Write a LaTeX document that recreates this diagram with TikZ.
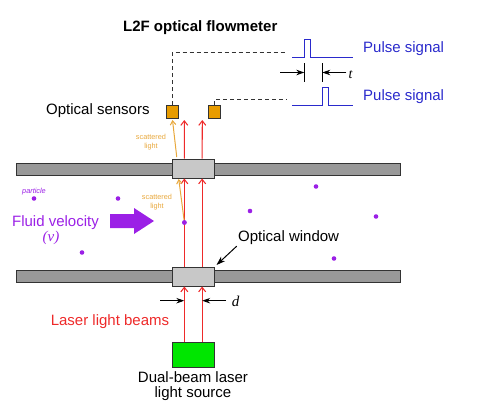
\documentclass[tikz,border=0pt]{standalone}
\usepackage{fontspec}
\setmainfont{Liberation Sans}
\newfontfamily\mathserif{Liberation Serif}
\usetikzlibrary{arrows.meta,calc}
\definecolor{pipegray}{HTML}{999999}
\definecolor{windowgray}{HTML}{C8C8C8}
\definecolor{edgegray}{HTML}{333333}
\definecolor{sensororange}{HTML}{E89C00}
\definecolor{scatterorange}{HTML}{E8A83C}
\definecolor{lasergreen}{HTML}{00E600}
\definecolor{beamred}{HTML}{EE2A2A}
\definecolor{pulseblue}{HTML}{2A2ACC}
\definecolor{fluidpurple}{HTML}{9B20E6}

\begin{document}
\begin{tikzpicture}[
  x=1pt,y=-1pt,
  font=\fontsize{15}{15}\selectfont,
  >={Stealth[length=8pt,width=5.5pt]},
  pipe/.style={rectangle,draw=edgegray,fill=pipegray,line width=1pt,
    minimum width=384.5pt,minimum height=12pt,inner sep=0pt},
  window/.style={rectangle,draw=edgegray,fill=windowgray,line width=1pt,
    minimum width=42.5pt,minimum height=19pt,inner sep=0pt},
  sensor/.style={rectangle,draw=edgegray,fill=sensororange,line width=1pt,
    minimum width=12pt,minimum height=12.5pt,inner sep=0pt},
  source/.style={rectangle,draw=edgegray,fill=lasergreen,line width=1pt,
    minimum width=42.5pt,minimum height=25pt,inner sep=0pt},
  particle/.style={circle,fill=fluidpurple,minimum size=4.6pt,inner sep=0pt},
  beam/.style={-{Straight Barb[length=4.5pt,width=7pt]},line width=1.05pt,beamred},
  scatter/.style={-{Straight Barb[length=4pt,width=5.5pt]},line width=1pt,scatterorange},
  wire/.style={line width=1pt,dash pattern=on 4pt off 3pt,edgegray},
  pulse/.style={line width=1pt,pulseblue},
  dim/.style={->,line width=0.9pt,black},
  tick/.style={line width=0.9pt,black},
  lbl/.style={anchor=west,inner sep=0pt},
  small/.style={font=\fontsize{7.3}{9}\selectfont,text=scatterorange,align=center}
]
\useasboundingbox (0,0) rectangle (488,407);

% Pipe walls and windows
\node[pipe] (pipetop) at (208.25,169) {};
\node[pipe] (pipebot) at (208.25,276) {};
\node[window] (wintop) at (193.25,168.5) {};
\node[window] (winbot) at (193.25,276.5) {};

% Sensors and laser
\node[sensor] (s1) at (172.5,111.75) {};
\node[sensor] (s2) at (214.5,111.75) {};
\node[source] (laser) at (193.25,354.5) {};

% Particles
\foreach \x/\y/\n in {34/198.5/a,118/198.5/b,316/186.5/c,250/211/d,376/216.5/e,184.4/222.5/f,82/252.5/g,334/258.5/h}
  \node[particle] (p\n) at (\x,\y) {};

% Labels
\node[font=\fontsize{15}{15}\selectfont\bfseries] (title) at (200.25,27.5) {L2F optical flowmeter};
\node[lbl] (sensorlbl) at (46,111) {Optical sensors};
\node[lbl,text=pulseblue] (pulselbl1) at (363,49) {Pulse signal};
\node[lbl,text=pulseblue] (pulselbl2) at (363,97) {Pulse signal};
\node[small] (scat1) at (151,142.5) {scattered\\light};
\node[small] (scat2) at (157,202) {scattered\\light};
\node[font=\fontsize{7.3}{8}\selectfont\itshape,text=fluidpurple] (partlbl) at (34,191.5) {particle};
\node[text=fluidpurple] (fluidlbl) at (55.5,222.5) {Fluid velocity};
\node[text=fluidpurple,font=\fontsize{15}{15}\selectfont\mathserif\itshape] (vlbl) at (51,238) {(v)};
\node[lbl] (winlbl) at (238,237.5) {Optical window};
\node[text=beamred] (laserlbl) at (110,321.5) {Laser light beams};
\node[align=center,font=\fontsize{15}{15.5}\selectfont] (sourcelbl) at (193,386) {Dual-beam laser\\light source};
\node[font=\fontsize{15}{15}\selectfont\mathserif\itshape] (dlbl) at (235.5,301) {d};
\node[font=\fontsize{14}{14}\selectfont\mathserif\itshape] (tlbl) at (350.5,74.5) {t};

% Fluid arrow
\fill[fluidpurple] (110,214) -- (134,214) -- (134,208) -- (154,221) -- (134,234) -- (134,228) -- (110,228) -- cycle;

% Beams
\draw[beam] ($(laser.north)+(-8.9,0)$) -- ($(winbot.south)+(-8.9,0)$);
\draw[beam] ($(laser.north)+(8.9,0)$) -- ($(winbot.south)+(8.9,0)$);
\draw[beam] ($(winbot.north)+(-8.9,0)$) -- ($(wintop.south)+(-8.9,0)$);
\draw[beam] ($(winbot.north)+(8.9,0)$) -- ($(wintop.south)+(8.9,0)$);
\draw[beam] ($(wintop.north)+(-8.9,0)$) -- ($(s1.south)+(11.8,1.5)$);
\draw[beam] ($(wintop.north)+(8.9,0)$) -- ($(s2.south)+(-12.2,1.5)$);

% Scattered light
\draw[scatter] (pf) -- ($(wintop.south)+(-14.5,0.5)$);
\draw[scatter] ($(wintop.north)+(-16.5,-1.5)$) -- ($(s1.south)+(0,1.5)$);
\node[particle] (pf2) at (pf) {};

% Sensor wires
\coordinate (w1) at (287,52);
\coordinate (w2) at (287,99.5);
\draw[wire] (s1.north) |- (w1);
\draw[wire] (s2.north) |- (w2);

% Pulse traces
\coordinate (pa) at (292,57.5);
\coordinate (pb) at (292,105);
\draw[pulse] (pa) -- (304.5,57.5) -- (304.5,39.5) -- (310.5,39.5) -- (310.5,57.5) -- (352.5,57.5);
\draw[pulse] (pb) -- (322.5,105) -- (322.5,87.5) -- (328.5,87.5) -- (328.5,105) -- (352.5,105);

% Time dimension
\coordinate (ta) at (304.3,63);
\coordinate (tb) at (322.3,63);
\draw[tick] (ta) -- +(0,18.5);
\draw[tick] (tb) -- +(0,18.5);
\draw[dim] ($(ta)+(-24,9.5)$) -- ($(ta)+(0,9.5)$);
\draw[dim] ($(tb)+(24,9.5)$) -- ($(tb)+(0,9.5)$);

% Spacing dimension
\coordinate (da) at (184.3,300.7);
\coordinate (db) at (202.2,300.7);
\draw[dim] ($(da)+(-24,0)$) -- (da);
\draw[dim] ($(db)+(24,0)$) -- (db);

% Window callout
\draw[->,line width=1pt,>={Stealth[length=9pt,width=6pt]}] ($(winlbl.south west)+(-1.3,1.5)$) -- ($(winbot.north east)+(1.5,-1.5)$);

\end{tikzpicture}
\end{document}
